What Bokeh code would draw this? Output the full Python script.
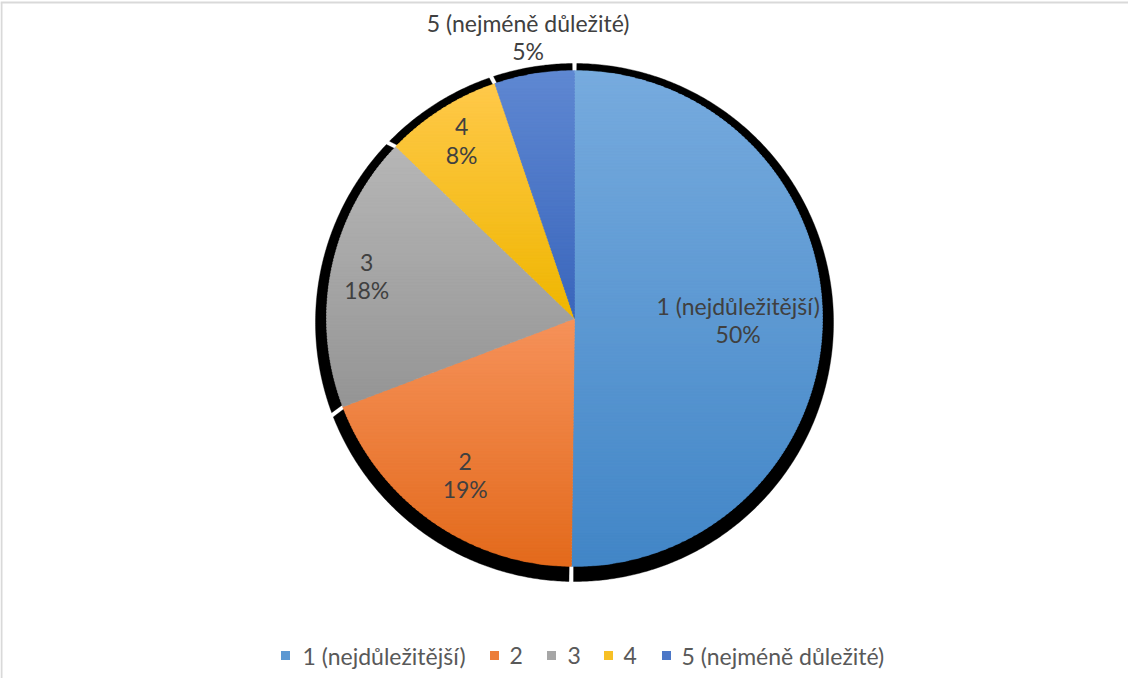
import numpy as np
from bokeh.plotting import figure
from bokeh.models import Range1d, ColumnDataSource, LabelSet
from bokeh.core.properties import value
from bokeh.embed import file_html
from bokeh.resources import INLINE

# ---------------- data ----------------
categories = ["1 (nejdůležitější)", "2", "3", "4", "5 (nejméně důležité)"]
shares = [50.2, 19.0, 18.0, 7.6, 5.2]
base_colors = ["#5B9BD5", "#ED7D31", "#A5A5A5", "#FFC000", "#4472C4"]
top_colors = ["#77abde", "#f6925a", "#b6b6b6", "#ffc94a", "#5f88d2"]
bottom_colors = ["#4286c7", "#e36a1c", "#959595", "#efb600", "#3a66bc"]

# ---------------- layout ----------------
W, H = 1128, 678
FONT = "Lato"
LABEL_COLOR = "#404040"
LEGEND_COLOR = "#595959"
CX, CY, R = 574.0, 360.0, 248.0          # pie centre / radius (screen px)
SCX, SCY, SR = 574.0, 356.0, 259.0       # shadow centre / radius
GAP = 2.3                                 # half width of the white gaps in the shadow (px)
label_r = [0.66, 0.77, 0.855, 0.85, 1.15]
legend_y = 23
legend_square_x = [285, 494, 551, 608, 666]
legend_text_x = [302, 509, 567, 623, 681]

p = figure(width=W, height=H, x_range=Range1d(0, W), y_range=Range1d(0, H),
           output_backend="svg", toolbar_location=None, min_border=0,
           x_axis_type=None, y_axis_type=None)
p.grid.visible = False
p.outline_line_color = None

total = float(sum(shares))
fr = np.array(shares) / total
theta_end = np.cumsum(fr) * 2 * np.pi
theta_start = theta_end - fr * 2 * np.pi


def wedge_poly(cx, cy, r, t0, t1):
    n = max(8, int((t1 - t0) * 180 / np.pi * 2))
    th = np.linspace(t0, t1, n)
    return [(cx, cy)] + [(cx + r * np.sin(t), cy + r * np.cos(t)) for t in th]


def hex2rgb(h):
    h = h.lstrip("#")
    return np.array([int(h[i:i + 2], 16) for i in (0, 2, 4)], dtype=float)


def rgb2hex(c):
    c = np.clip(np.round(c), 0, 255).astype(int)
    return "#%02x%02x%02x" % tuple(c)


def clip_half(pts, keep, yc):
    out = []
    n = len(pts)
    for i in range(n):
        a = pts[i]
        b = pts[(i + 1) % n]
        ia, ib = keep(a[1]), keep(b[1])
        if ia:
            out.append(a)
        if ia != ib:
            t = (yc - a[1]) / (b[1] - a[1])
            out.append((a[0] + t * (b[0] - a[0]), yc))
    return out


xs_all, ys_all, cols_all = [], [], []

# black shadow ring around each slice, split by small gaps
for i in range(len(shares)):
    g = GAP / SR
    a = np.linspace(theta_start[i] + g, theta_end[i] - g,
                    max(8, int((theta_end[i] - theta_start[i]) * 180 / np.pi * 2)))
    ox = SCX + SR * np.sin(a)
    oy = SCY + SR * np.cos(a)
    ix = CX + (R - 1.0) * np.sin(a[::-1])
    iy = CY + (R - 1.0) * np.cos(a[::-1])
    xs_all.append([float(v) for v in np.concatenate([ox, ix])])
    ys_all.append([float(v) for v in np.concatenate([oy, iy])])
    cols_all.append("#000000")

# pie slices with a vertical light-to-dark gradient (horizontal bands)
legend_colors = []
for i in range(len(shares)):
    poly = wedge_poly(CX, CY, R, theta_start[i], theta_end[i])
    ymin = min(q[1] for q in poly)
    ymax = max(q[1] for q in poly)
    nb = max(10, int((ymax - ymin) / 3))
    edges = np.linspace(ymax, ymin, nb + 1)
    c_top, c_bot = hex2rgb(top_colors[i]), hex2rgb(bottom_colors[i])
    for k in range(nb):
        yhi, ylo = edges[k], edges[k + 1] - 1.5
        pts = clip_half(poly, lambda y, v=ylo: y >= v, ylo)
        if pts:
            pts = clip_half(pts, lambda y, v=yhi: y <= v, yhi)
        if len(pts) < 3:
            continue
        f = (k + 0.5) / nb
        xs_all.append([float(q[0]) for q in pts])
        ys_all.append([float(q[1]) for q in pts])
        cols_all.append(rgb2hex(c_top * (1 - f) + c_bot * f))
    legend_colors.append(rgb2hex((c_top + c_bot) / 2))

p.patches(xs="xs", ys="ys", fill_color="cols", line_color="cols", line_width=0.4,
          source=ColumnDataSource(dict(xs=xs_all, ys=ys_all, cols=cols_all)))

# data labels
mid = (theta_start + theta_end) / 2
lx = [float(CX + R * label_r[i] * np.sin(mid[i])) for i in range(len(shares))]
ly = [float(CY + R * label_r[i] * np.cos(mid[i])) for i in range(len(shares))]
pct = ["%d%%" % round(v / total * 100) for v in shares]
lab_src = ColumnDataSource(dict(x=lx + lx, y=[y + 14 for y in ly] + [y - 14 for y in ly],
                                t=categories + pct))
p.add_layout(LabelSet(x="x", y="y", text="t", source=lab_src, text_align="center",
                      text_baseline="middle", text_font=value(FONT),
                      text_font_size=value("23px"), text_color=value(LABEL_COLOR)))

# chart-area border (top and left edges are inside the window)
p.segment(x0=[0, 1], y0=[676, 0], x1=[W, 1], y1=[676, 676],
          line_color="#d9d9d9", line_width=2)

# legend: coloured squares + category names
leg_src = ColumnDataSource(dict(sx=legend_square_x, tx=legend_text_x,
                                y=[legend_y] * len(categories),
                                c=legend_colors, t=categories))
p.scatter(x="sx", y="y", source=leg_src, marker="square", size=9,
          fill_color="c", line_color=None)
p.add_layout(LabelSet(x="tx", y="y", text="t", source=leg_src, text_align="left",
                      text_baseline="middle", text_font=value(FONT),
                      text_font_size=value("23px"), text_color=value(LEGEND_COLOR)))

open("out.html", "w").write(file_html(p, INLINE))
